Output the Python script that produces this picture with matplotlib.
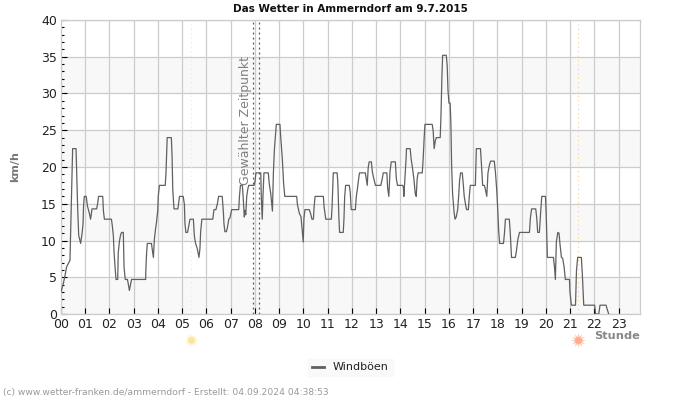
import matplotlib
matplotlib.use('Agg')
import matplotlib.pyplot as plt
from matplotlib.ticker import MultipleLocator

# Wind gusts: hour of day, km/h
hours = [
    0.00, 0.10, 0.17, 0.23, 0.37, 0.40, 0.45, 0.48, 0.62, 0.69, 0.73, 0.81, 0.87, 0.91, 0.93, 0.96,
    1.04, 1.09, 1.17, 1.22, 1.28, 1.47, 1.51, 1.55, 1.72, 1.75, 1.79,
    2.08, 2.12, 2.16, 2.19, 2.24, 2.27, 2.34, 2.36, 2.41, 2.46, 2.50, 2.57, 2.60, 2.65, 2.74, 2.78, 2.82, 2.87, 2.91,
    3.49, 3.50, 3.53, 3.56, 3.73, 3.77, 3.81, 3.85, 3.90, 3.94, 3.99,
    4.01, 4.06, 4.30, 4.33, 4.36, 4.38, 4.55, 4.58, 4.61, 4.66, 4.82, 4.85, 4.89,
    5.04, 5.09, 5.11, 5.15, 5.22, 5.27, 5.32, 5.46, 5.50, 5.55, 5.62, 5.69, 5.73, 5.76, 5.81,
    6.26, 6.31, 6.39, 6.45, 6.50, 6.65, 6.70, 6.72, 6.76, 6.82, 6.86, 6.92, 6.97,
    7.04, 7.33, 7.36, 7.40, 7.48, 7.52, 7.56, 7.59, 7.62, 7.66, 7.70, 7.74, 7.96,
    8.00, 8.04, 8.24, 8.26, 8.30, 8.33, 8.37, 8.55, 8.59, 8.65, 8.69, 8.72, 8.76, 8.80, 8.84, 8.88,
    9.03, 9.07, 9.13, 9.18, 9.23, 9.72, 9.75, 9.83, 9.90, 9.95, 9.99,
    10.02, 10.06, 10.24, 10.30, 10.35, 10.41, 10.44, 10.48, 10.82, 10.85, 10.92,
    11.15, 11.18, 11.23, 11.39, 11.42, 11.46, 11.49, 11.64, 11.67, 11.70, 11.74, 11.89, 11.93, 11.97,
    12.14, 12.18, 12.22, 12.26, 12.31, 12.55, 12.59, 12.63, 12.67, 12.71, 12.80, 12.84, 12.88, 12.97,
    13.19, 13.25, 13.29, 13.44, 13.47, 13.52, 13.57, 13.62, 13.79, 13.83, 13.88,
    14.09, 14.12, 14.14, 14.18, 14.23, 14.25, 14.40, 14.44, 14.50, 14.56, 14.61, 14.65, 14.69, 14.73, 14.90, 14.94, 14.98,
    15.01, 15.31, 15.35, 15.39, 15.44, 15.48, 15.64, 15.67, 15.71, 15.74, 15.89, 15.93, 15.96,
    16.00, 16.05, 16.08, 16.11, 16.15, 16.21, 16.25, 16.30, 16.36, 16.40, 16.44, 16.48, 16.55, 16.59, 16.63, 16.69, 16.73, 16.80, 16.84, 16.88,
    17.04, 17.09, 17.13, 17.30, 17.34, 17.39, 17.46, 17.50, 17.56, 17.61, 17.67, 17.72, 17.87, 17.92, 17.97,
    18.01, 18.05, 18.09, 18.25, 18.29, 18.33, 18.49, 18.53, 18.58, 18.74, 18.78, 18.84, 18.91,
    19.32, 19.36, 19.41, 19.58, 19.62, 19.66, 19.73, 19.79, 19.83, 19.98,
    20.01, 20.06, 20.31, 20.35, 20.39, 20.43, 20.49, 20.54, 20.58, 20.64, 20.69, 20.75, 20.80, 20.97, 20.99,
    21.05, 21.22, 21.26, 21.31, 21.46, 21.50, 21.56,
    22.01, 22.05, 22.18, 22.23, 22.48, 22.54, 22.59,
]
gusts = [
    3.0, 4.2, 5.3, 6.4, 7.3, 11.4, 18.7, 22.5, 22.5, 14.1, 10.7, 9.6, 11.0, 12.3, 14.7, 16.0,
    16.0, 14.7, 13.7, 12.9, 14.3, 14.3, 15.0, 16.0, 16.0, 14.0, 12.9,
    12.9, 11.9, 10.6, 8.3, 5.9, 4.7, 4.7, 8.3, 9.9, 10.8, 11.1, 11.1, 6.4, 4.7, 4.7, 4.0, 3.2, 4.0, 4.7,
    4.7, 6.0, 8.3, 9.6, 9.6, 8.7, 7.7, 10.1, 11.6, 12.5, 14.1,
    16.0, 17.5, 17.5, 19.2, 22.3, 24.0, 24.0, 21.6, 16.9, 14.3, 14.3, 15.0, 16.0,
    16.0, 14.9, 12.4, 11.1, 11.1, 12.0, 12.9, 12.9, 10.6, 9.6, 8.9, 7.7, 8.9, 11.2, 12.9,
    12.9, 14.2, 14.2, 15.0, 16.0, 16.0, 13.7, 12.3, 11.2, 11.2, 11.7, 12.9, 13.1,
    14.2, 14.2, 16.0, 17.5, 17.5, 15.5, 13.2, 14.1, 13.5, 16.0, 16.9, 17.5, 17.5,
    18.0, 19.2, 19.2, 16.0, 12.9, 16.0, 19.2, 19.2, 17.7, 16.4, 15.0, 14.0, 19.2, 22.3, 24.1, 25.8,
    25.8, 23.7, 21.0, 17.8, 16.0, 16.0, 14.9, 13.7, 13.2, 11.4, 9.8,
    13.0, 14.2, 14.2, 13.6, 12.9, 12.9, 14.6, 16.0, 16.0, 14.6, 12.9,
    12.9, 14.6, 19.2, 19.2, 17.7, 13.2, 11.1, 11.1, 12.9, 16.0, 17.5, 17.5, 16.6, 14.2,
    14.2, 16.0, 16.9, 18.0, 19.2, 19.2, 18.4, 17.5, 19.9, 20.7, 20.7, 19.4, 18.7, 17.5,
    17.5, 18.4, 19.2, 19.2, 17.2, 16.0, 19.4, 20.7, 20.7, 18.4, 17.5,
    17.5, 17.3, 16.0, 18.2, 21.0, 22.5, 22.5, 21.1, 19.8, 18.2, 16.4, 16.0, 18.4, 19.2, 19.2, 21.3, 24.1,
    25.8, 25.8, 24.9, 22.5, 23.6, 24.0, 24.0, 26.8, 32.3, 35.2, 35.2, 33.7, 30.5,
    28.7, 28.7, 26.0, 20.3, 16.4, 13.9, 12.9, 13.2, 14.2, 16.0, 18.2, 19.2, 19.2, 17.7, 16.0, 14.8, 14.2, 14.2, 16.0, 17.5,
    17.5, 17.5, 22.5, 22.5, 20.4, 17.5, 17.5, 17.0, 16.0, 19.2, 20.3, 20.8, 20.8, 19.2, 16.9,
    14.4, 11.4, 9.6, 9.6, 11.0, 12.9, 12.9, 11.0, 7.7, 7.7, 8.5, 10.1, 11.1,
    11.1, 13.1, 14.3, 14.3, 13.1, 11.1, 11.1, 14.2, 16.0, 16.0,
    13.7, 7.7, 7.7, 6.5, 4.7, 9.8, 11.1, 11.0, 9.5, 7.7, 7.6, 6.4, 4.7, 4.7, 3.0,
    1.2, 1.2, 5.9, 7.7, 7.7, 5.5, 1.2,
    1.2, 0.0, 0.0, 1.2, 1.2, 0.5, 0.0,
]

hour_labels = ['%02d' % h for h in range(24)]
sunrise, sunset = 5.36, 21.32
selected = [7.93, 8.17]

fig, ax = plt.subplots(figsize=(7, 4), dpi=100)
fig.subplots_adjust(left=61 / 700, right=640 / 700, top=1 - 20 / 400, bottom=1 - 314 / 400)

# alternating bands and grid
for y0 in range(0, 40, 10):
    ax.axhspan(y0, y0 + 5, color='#f8f8f8', lw=0, zorder=0)
ax.grid(True, which='major', color='#cccccc', lw=0.9, zorder=1)
ax.set_axisbelow(True)

ax.axvline(sunrise, color='#f5f0a0', lw=0.8, ls=(0, (1, 3)), zorder=2)
ax.axvline(sunset, color='#f7d090', lw=0.8, ls=(0, (1, 3)), zorder=2)
for x in selected:
    ax.axvline(x, color='#555555', lw=0.9, ls=(0, (1.5, 2.5)), zorder=2)

line, = ax.plot(hours, gusts, color='#606060', lw=0.9, zorder=3, label='Windböen')

ax.set_xlim(0, 23.88)
ax.set_ylim(0, 40)
ax.set_xticks(range(24))
ax.set_xticklabels(hour_labels)
ax.yaxis.set_major_locator(MultipleLocator(5))
ax.yaxis.set_minor_locator(MultipleLocator(1))
ax.tick_params(axis='both', which='major', direction='in', length=4, width=0.8, color='black',
               labelsize=9, labelcolor='#222222', pad=3)
ax.tick_params(axis='y', which='minor', direction='in', length=2.2, width=0.8, color='black')
for s in ax.spines.values():
    s.set_color('#cccccc')
    s.set_linewidth(0.9)

ax.text(7.87, 17.5, 'Gewählter Zeitpunkt', rotation=90, fontsize=9, color='#808080',
        ha='right', va='bottom', zorder=4)

# sun symbols below the axis
trans = ax.get_xaxis_transform()
ax.plot([sunrise], [-0.09], transform=trans, clip_on=False, marker=(12, 1, 0), ms=10,
        color='#fdf0b8', mew=0)
ax.plot([sunrise], [-0.09], transform=trans, clip_on=False, marker='o', ms=4.5,
        color='#fbe6a0', mew=0)
ax.plot([sunset], [-0.09], transform=trans, clip_on=False, marker=(12, 1, 0), ms=10.5,
        color='#fdc8b0', mew=0)
ax.plot([sunset], [-0.09], transform=trans, clip_on=False, marker='o', ms=5,
        color='#fdaf90', mew=0)

fig.text(350 / 700, 1 - 8.5 / 400, 'Das Wetter in Ammerndorf am 9.7.2015', fontsize=7.5, fontweight='bold',
         ha='center', va='center', color='#111111')
fig.text(15.5 / 700, 1 - 167 / 400, 'km/h', fontsize=8, fontweight='bold', rotation=90,
         ha='center', va='center', color='#777777')
fig.text(640 / 700, 1 - 336 / 400, 'Stunde', fontsize=8.2, fontweight='bold',
         ha='right', va='center', color='#888888')
fig.text(3 / 700, 1 - 393 / 400, '(c) www.wetter-franken.de/ammerndorf - Erstellt: 04.09.2024 04:38:53',
         fontsize=6.6, ha='left', va='center', color='#999999')

leg = fig.legend(handles=[line], loc='center', bbox_to_anchor=(350.5 / 700, 1 - 367.5 / 400), fontsize=8,
                 frameon=True, fancybox=False, facecolor='#f8f8f8', edgecolor='#f8f8f8',
                 handlelength=1.1, borderpad=0.35, labelcolor='#222222')
leg.get_lines()[0].set_linewidth(2)

fig.savefig('out.png', dpi=100)
